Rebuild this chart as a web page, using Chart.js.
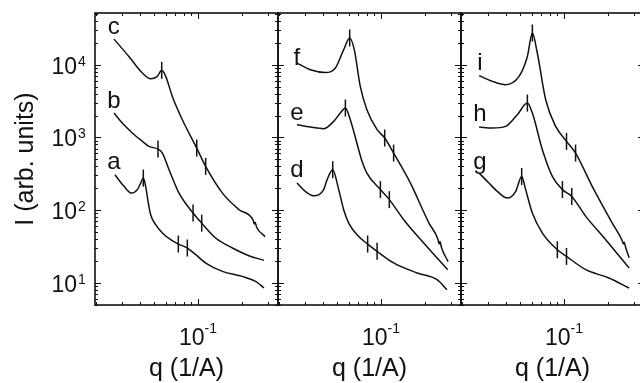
<!DOCTYPE html>
<html>
<head>
<meta charset="utf-8">
<script src="https://cdn.jsdelivr.net/npm/chart.js@4.4.0/dist/chart.umd.min.js"></script>
<style>
  html, body { margin: 0; padding: 0; background: #fff; overflow: hidden; }
</style>
</head>
<body>
<canvas id="saxsChart" width="646" height="383"></canvas>
<script>
// q (1/A) and I (arb. units) for each curve
const qA = [0.027, 0.0311, 0.0351, 0.0384, 0.0405, 0.0422, 0.0438, 0.0455, 0.0474, 0.0513, 0.057, 0.065, 0.0733, 0.0845, 0.0964, 0.113, 0.147, 0.201, 0.248, 0.283];
const iA = [306, 212, 171, 191, 235, 275, 212, 131, 86, 62.8, 48.2, 39, 34, 30, 24.3, 18.6, 14.3, 12.2, 10.4, 8.45];
const qB = [0.0266, 0.0303, 0.0355, 0.0416, 0.0462, 0.0532, 0.057, 0.0633, 0.0741, 0.0925, 0.106, 0.132, 0.172, 0.223, 0.283];
const iB = [2160, 1575, 1148, 881, 751, 690, 608, 359, 171, 91, 66, 41.2, 30, 23.5, 20.3];
const qC = [0.0266, 0.0336, 0.0416, 0.0474, 0.0526, 0.0564, 0.0601, 0.0667, 0.0781, 0.098, 0.1128, 0.147, 0.191, 0.238, 0.243, 0.246, 0.252, 0.288];
const iC = [22500, 13000, 7680, 6420, 6920, 8360, 6920, 3660, 1750, 713, 398, 171, 101, 73, 64, 68, 58, 43];

const qD = [0.0266, 0.0303, 0.0346, 0.0405, 0.0427, 0.0467, 0.0513, 0.0555, 0.0601, 0.0685, 0.081, 0.094, 0.122, 0.177, 0.242, 0.283];
const iD = [235, 181, 157, 191, 261, 359, 191, 101, 66, 45.7, 34, 27, 18.7, 13.6, 11, 8];
const qE = [0.0266, 0.0328, 0.0405, 0.0474, 0.0526, 0.057, 0.0616, 0.0703, 0.0741, 0.080, 0.099, 0.114, 0.143, 0.196, 0.286];
const iE = [1493, 1387, 1316, 1660, 2160, 2535, 1750, 676, 468, 323, 191, 139, 73.6, 35.2, 15.1];
const qF = [0.0266, 0.0328, 0.0416, 0.0487, 0.0555, 0.061, 0.0656, 0.0721, 0.080, 0.094, 0.106, 0.122, 0.159, 0.213, 0.245, 0.25, 0.253, 0.26, 0.288];
const iF = [10540, 8540, 7840, 9000, 16100, 23300, 16100, 5020, 2400, 1276, 980, 608, 235, 66, 40, 34, 37, 30, 19.5];

const qG = [0.0262, 0.0306, 0.0349, 0.0409, 0.0467, 0.0513, 0.0546, 0.0607, 0.0711, 0.090, 0.104, 0.141, 0.203, 0.279];
const iG = [323, 235, 181, 146, 181, 290, 191, 91, 48.2, 28.4, 23, 15.1, 11.6, 8.45];
const qH = [0.0262, 0.0323, 0.0398, 0.0479, 0.0561, 0.0607, 0.0711, 0.0832, 0.0975, 0.113, 0.141, 0.193, 0.279];
const iH = [1387, 1343, 1416, 2050, 2965, 2160, 676, 290, 191, 154, 81.8, 39, 15.9];
const qI = [0.0262, 0.0323, 0.0398, 0.0492, 0.0561, 0.0607, 0.0656, 0.0749, 0.0877, 0.104, 0.120, 0.156, 0.214, 0.25, 0.255, 0.258, 0.265, 0.279];
const iI = [7070, 5900, 5310, 6900, 13000, 27300, 14500, 3300, 1416, 881, 608, 212, 66, 38, 34, 36, 30, 22];

// vertical marks on the curves
const markQ1 = [0.0422, 0.0733, 0.0845, 0.0532, 0.0925, 0.106, 0.0564, 0.098, 0.1128];
const markI1 = [275, 34, 30, 690, 91, 66, 8360, 713, 398];
const markQ2 = [0.0467, 0.081, 0.094, 0.057, 0.099, 0.114, 0.061, 0.106, 0.122];
const markI2 = [359, 34, 27, 2535, 191, 139, 23300, 980, 608];
const markQ3 = [0.0513, 0.090, 0.104, 0.0561, 0.0975, 0.113, 0.0607, 0.104, 0.120];
const markI3 = [290, 28.4, 23, 2965, 191, 154, 27300, 881, 608];

// curve letters
const letters = [['a', 'b', 'c'], ['d', 'e', 'f'], ['g', 'h', 'i']];
const letterQ = 0.0265;
const letterI = [[366, 2560, 26700], [289, 1746, 10000], [366, 1656, 8340]];

// axes
const yTickValues = [10, 100, 1000, 10000];
const yTickExps = ['1', '2', '3', '4'];
const xTickValues = [0.1];
const xTickExps = ['-1'];
const xTitle = 'q (1/A)';
const yTitle = 'I (arb. units)';

const FONT = '"Liberation Sans", Arial, Helvetica, sans-serif';
const INK = '#111111';

function pts(qs, is) {
  return qs.map((q, k) => ({ x: q, y: is[k] }));
}

function curve(qs, is, axis) {
  return {
    type: 'scatter',
    data: pts(qs, is),
    xAxisID: axis,
    yAxisID: 'y',
    showLine: true,
    borderColor: INK,
    borderWidth: 1.5,
    pointRadius: 0,
    cubicInterpolationMode: 'monotone'
  };
}

function marks(qs, is, axis) {
  return {
    type: 'scatter',
    data: pts(qs, is),
    xAxisID: axis,
    yAxisID: 'y',
    showLine: false,
    pointStyle: 'line',
    pointRotation: 90,
    pointRadius: 8.5,
    pointBorderWidth: 1.5,
    pointBorderColor: INK,
    pointBackgroundColor: INK
  };
}

function logTicks(min, max) {
  const out = [];
  for (let e = Math.floor(Math.log10(min)); e <= Math.ceil(Math.log10(max)); e++) {
    for (let m = 1; m <= 9; m++) {
      const v = m * Math.pow(10, e);
      if (v >= min && v <= max) out.push({ v: v, major: m === 1 });
    }
  }
  return out;
}

const framePlugin = {
  id: 'frame',
  afterDraw(chart) {
    const ctx = chart.ctx;
    const y = chart.scales.y;
    const xs = ['x1', 'x2', 'x3'].map(id => chart.scales[id]);
    const top = y.top, bottom = y.bottom;
    ctx.save();
    ctx.strokeStyle = INK;
    ctx.fillStyle = INK;

    // ticks pointing inwards
    ctx.lineWidth = 1;
    ctx.beginPath();
    logTicks(y.min, y.max).forEach(t => {
      const py = Math.round(y.getPixelForValue(t.v)) + 0.5;
      const len = t.major ? 6 : 3;
      xs.forEach(s => {
        ctx.moveTo(s.left, py); ctx.lineTo(s.left + len, py);
        ctx.moveTo(s.right, py); ctx.lineTo(s.right - len, py);
      });
    });
    xs.forEach(s => {
      logTicks(s.min, s.max).forEach(t => {
        const px = Math.round(s.getPixelForValue(t.v)) + 0.5;
        const len = t.major ? 6 : 3;
        ctx.moveTo(px, bottom); ctx.lineTo(px, bottom - len);
        ctx.moveTo(px, top); ctx.lineTo(px, top + len);
      });
    });
    ctx.stroke();

    // panel boxes
    ctx.lineWidth = 1.6;
    xs.forEach(s => ctx.strokeRect(s.left, top, s.right - s.left, bottom - top));

    // y tick labels
    yTickValues.forEach((v, k) => {
      const py = y.getPixelForValue(v);
      ctx.textBaseline = 'alphabetic';
      ctx.font = '23px ' + FONT;
      ctx.textAlign = 'right';
      ctx.fillText('10', xs[0].left - 18, py + 9);
      ctx.font = '14px ' + FONT;
      ctx.textAlign = 'left';
      ctx.fillText(yTickExps[k], xs[0].left - 17, py + 1);
    });

    // x tick labels and titles
    xs.forEach(s => {
      xTickValues.forEach((v, k) => {
        const px = s.getPixelForValue(v);
        ctx.font = '23px ' + FONT;
        const w1 = ctx.measureText('10').width;
        ctx.font = '14px ' + FONT;
        const w2 = ctx.measureText(xTickExps[k]).width;
        const x0 = px - (w1 + w2) / 2;
        ctx.textAlign = 'left';
        ctx.font = '23px ' + FONT;
        ctx.fillText('10', x0, bottom + 40);
        ctx.font = '14px ' + FONT;
        ctx.fillText(xTickExps[k], x0 + w1, bottom + 28);
      });
      ctx.font = '25px ' + FONT;
      ctx.textAlign = 'center';
      ctx.fillText(xTitle, (s.left + s.right) / 2, bottom + 71);
    });

    ctx.save();
    ctx.translate(33, (top + bottom) / 2);
    ctx.rotate(-Math.PI / 2);
    ctx.font = '25px ' + FONT;
    ctx.textAlign = 'center';
    ctx.textBaseline = 'alphabetic';
    ctx.fillText(yTitle, 0, 0);
    ctx.restore();

    // curve letters
    ctx.font = '24px ' + FONT;
    ctx.textAlign = 'center';
    ctx.textBaseline = 'alphabetic';
    xs.forEach((s, p) => {
      letters[p].forEach((txt, k) => {
        ctx.fillText(txt, s.getPixelForValue(letterQ), y.getPixelForValue(letterI[p][k]));
      });
    });
    ctx.restore();
  }
};

function qAxis() {
  return {
    type: 'logarithmic',
    axis: 'x',
    position: 'bottom',
    stack: 'q',
    stackWeight: 1,
    min: 0.0197,
    max: 0.353,
    display: false
  };
}

new Chart(document.getElementById('saxsChart').getContext('2d'), {
  type: 'scatter',
  data: {
    datasets: [
      curve(qA, iA, 'x1'), curve(qB, iB, 'x1'), curve(qC, iC, 'x1'),
      curve(qD, iD, 'x2'), curve(qE, iE, 'x2'), curve(qF, iF, 'x2'),
      curve(qG, iG, 'x3'), curve(qH, iH, 'x3'), curve(qI, iI, 'x3'),
      marks(markQ1, markI1, 'x1'), marks(markQ2, markI2, 'x2'), marks(markQ3, markI3, 'x3')
    ]
  },
  options: {
    responsive: false,
    animation: false,
    events: [],
    layout: { autoPadding: false, padding: { left: 95, right: 2, top: 13, bottom: 78 } },
    plugins: {
      legend: { display: false },
      tooltip: { enabled: false }
    },
    scales: {
      x1: qAxis(),
      x2: qAxis(),
      x3: qAxis(),
      y: { type: 'logarithmic', position: 'left', min: 4.93, max: 51500, display: false }
    }
  },
  plugins: [framePlugin]
});
</script>
</body>
</html>
